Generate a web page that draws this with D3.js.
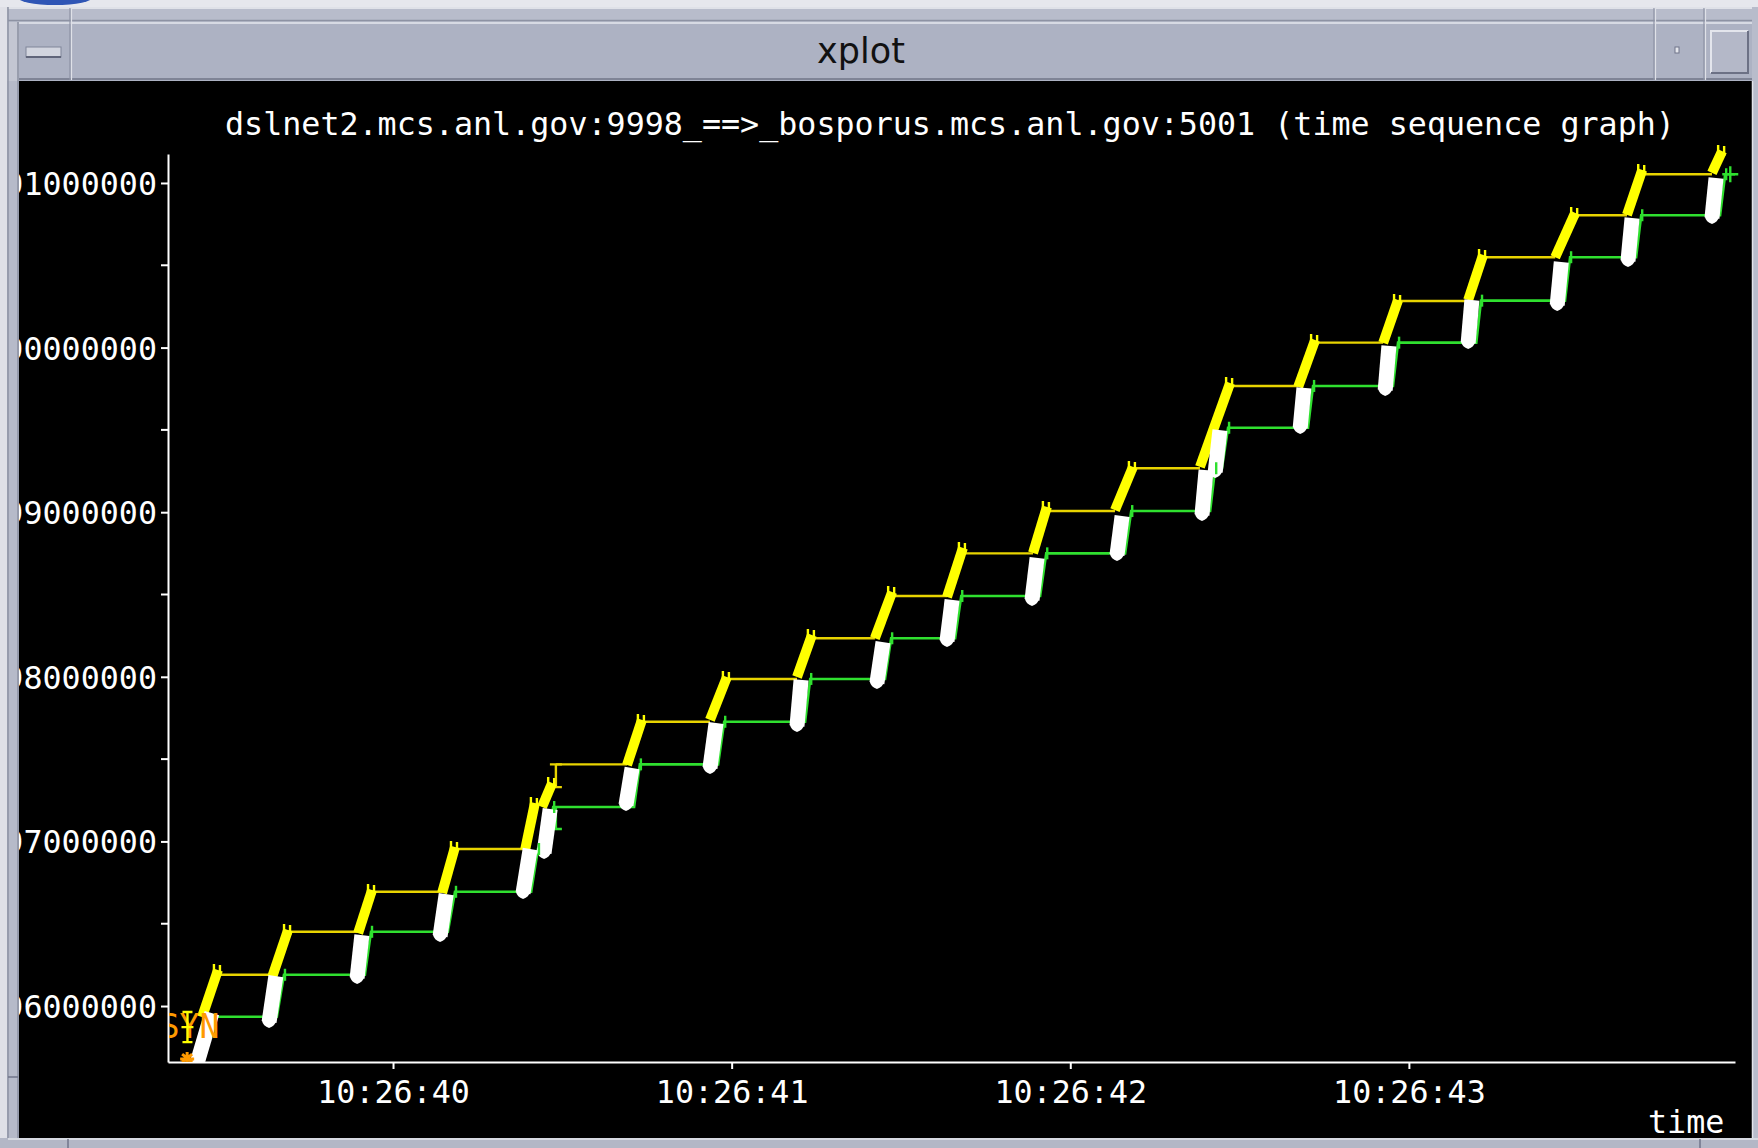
<!DOCTYPE html>
<html><head><meta charset="utf-8">
<script src="https://cdn.jsdelivr.net/npm/d3@7"></script>
<style>html,body{margin:0;padding:0;background:#c9ccd6;overflow:hidden}</style>
</head><body><svg id="c" width="1758" height="1148"></svg>
<script>
// ---------- data ----------
const windowTitle = "xplot";
const chartTitle = "dslnet2.mcs.anl.gov:9998_==>_bosporus.mcs.anl.gov:5001 (time sequence graph)";
const xAxisLabel = "time";
// time in seconds (10:26:ss.sss), sequence numbers in millions
const xTickValues = [40, 41, 42, 43];
const xTickLabels = ["10:26:40", "10:26:41", "10:26:42", "10:26:43"];
const yTickValues = [1096, 1097, 1098, 1099, 1100, 1101];
const yTickLabels = ["1096000000", "1097000000", "1098000000", "1099000000", "1100000000", "1101000000"];
const yMinorTicks = [1096.5, 1097.5, 1098.5, 1099.5, 1100.5];

// data segment bursts (white): [t0, seq0, t1, seq1]
const segmentBursts = [
  [39.424, 1095.672, 39.465, 1095.957],
  [39.634, 1095.903, 39.654, 1096.182],
  [39.894, 1096.170, 39.908, 1096.431],
  [40.139, 1096.425, 40.157, 1096.680],
  [40.384, 1096.687, 40.405, 1096.954],
  [40.446, 1096.930, 40.464, 1097.197],
  [40.688, 1097.221, 40.706, 1097.446],
  [40.936, 1097.446, 40.954, 1097.719],
  [41.193, 1097.701, 41.205, 1097.981],
  [41.429, 1097.962, 41.447, 1098.211],
  [41.636, 1098.217, 41.651, 1098.467],
  [41.887, 1098.467, 41.902, 1098.722],
  [42.138, 1098.740, 42.153, 1098.977],
  [42.389, 1098.983, 42.401, 1099.256],
  [42.428, 1099.244, 42.442, 1099.499],
  [42.679, 1099.512, 42.690, 1099.755],
  [42.930, 1099.742, 42.941, 1100.010],
  [43.175, 1100.028, 43.186, 1100.289],
  [43.438, 1100.259, 43.450, 1100.520],
  [43.647, 1100.526, 43.659, 1100.787],
  [43.895, 1100.787, 43.907, 1101.030]
];

// receive-window updates (yellow dense bands): [t0, seq0, t1, seq1]
const windowBursts = [
  [39.436, 1095.933, 39.483, 1096.219],
  [39.643, 1096.176, 39.690, 1096.462],
  [39.897, 1096.443, 39.938, 1096.705],
  [40.145, 1096.687, 40.183, 1096.966],
  [40.390, 1096.948, 40.419, 1097.233],
  [40.440, 1097.209, 40.470, 1097.355],
  [40.691, 1097.464, 40.735, 1097.738],
  [40.936, 1097.738, 40.986, 1097.999],
  [41.193, 1097.999, 41.237, 1098.254],
  [41.423, 1098.234, 41.474, 1098.515],
  [41.636, 1098.485, 41.683, 1098.783],
  [41.890, 1098.752, 41.931, 1099.032],
  [42.132, 1099.013, 42.185, 1099.275],
  [42.383, 1099.275, 42.472, 1099.785],
  [42.673, 1099.761, 42.723, 1100.046],
  [42.924, 1100.028, 42.968, 1100.289],
  [43.175, 1100.289, 43.219, 1100.563],
  [43.432, 1100.549, 43.491, 1100.818],
  [43.644, 1100.806, 43.689, 1101.079],
  [43.895, 1101.061, 43.925, 1101.194]
];

// window line flat parts: [tStart, tEnd, seq]
const windowLevels = [
  [39.483, 39.643, 1096.190],
  [39.690, 39.897, 1096.451],
  [39.938, 40.145, 1096.694],
  [40.183, 40.390, 1096.954],
  [40.481, 40.691, 1097.468],
  [40.735, 40.936, 1097.727],
  [40.986, 41.193, 1097.987],
  [41.237, 41.423, 1098.234],
  [41.474, 41.636, 1098.491],
  [41.683, 41.890, 1098.750],
  [41.931, 42.132, 1099.007],
  [42.185, 42.383, 1099.267],
  [42.472, 42.673, 1099.767],
  [42.723, 42.924, 1100.030],
  [42.968, 43.175, 1100.283],
  [43.219, 43.432, 1100.549],
  [43.491, 43.644, 1100.804],
  [43.689, 43.895, 1101.053]
];
// window line vertical jump: [t, seqFrom, seqTo]
const windowJumps = [[40.481, 1097.330, 1097.468]];

// ack line (green): [t, seq]
const ackLine = [
  [39.474, 1095.935], [39.657, 1095.935], [39.678, 1096.190], [39.917, 1096.190],
  [39.935, 1096.451], [40.162, 1096.451], [40.183, 1096.694], [40.408, 1096.694],
  [40.428, 1096.954], [40.452, 1096.954], [40.473, 1097.209], [40.712, 1097.209],
  [40.729, 1097.468], [40.960, 1097.468], [40.978, 1097.727], [41.217, 1097.727],
  [41.232, 1097.987], [41.453, 1097.987], [41.471, 1098.234], [41.660, 1098.234],
  [41.678, 1098.491], [41.911, 1098.491], [41.929, 1098.750], [42.162, 1098.750],
  [42.180, 1099.007], [42.413, 1099.007], [42.428, 1099.267], [42.448, 1099.267],
  [42.466, 1099.513], [42.702, 1099.513], [42.717, 1099.767], [42.953, 1099.767],
  [42.968, 1100.030], [43.199, 1100.030], [43.213, 1100.285], [43.461, 1100.285],
  [43.476, 1100.549], [43.671, 1100.549], [43.686, 1100.804], [43.919, 1100.804],
  [43.934, 1101.053], [43.963, 1101.053]
];
// ack vertical (duplicate ack): [t, seqFrom, seqTo]
const ackJumps = [[40.481, 1097.209, 1097.075]];
const ackEndMarker = [43.949, 1101.053];

// SYN
const synLabel = "SYN";
const synPoint = [39.393, 1095.872];
const synSpan = [1095.781, 1095.964];
const synTextSeq = 1095.806;
const synStar = [39.392, 1095.684];

// ---------- drawing ----------
const W = 1758, H = 1148;
const svg = d3.select("#c");
const MONO = "'DejaVu Sans Mono', 'Liberation Mono', monospace";

// window chrome
svg.append("rect").attr("x", 0).attr("y", 0).attr("width", W).attr("height", H).attr("fill", "#c3c6d2");
svg.append("rect").attr("x", 0).attr("y", 0).attr("width", W).attr("height", 7).attr("fill", "#e6e7ed");
svg.append("ellipse").attr("cx", 55).attr("cy", -3).attr("rx", 38).attr("ry", 8).attr("fill", "#2f55b5");
svg.append("rect").attr("x", 8).attr("y", 7).attr("width", W - 8).attr("height", 15).attr("fill", "#b8bccb");
svg.append("line").attr("x1", 8).attr("x2", W).attr("y1", 8).attr("y2", 8).attr("stroke", "#dfe1e8").attr("stroke-width", 2);
svg.append("line").attr("x1", 8).attr("x2", W).attr("y1", 20.5).attr("y2", 20.5).attr("stroke", "#8d92a3").attr("stroke-width", 1.5);
// title bar
svg.append("rect").attr("x", 19).attr("y", 22).attr("width", 1733).attr("height", 59).attr("fill", "#adb2c3");
svg.append("line").attr("x1", 19).attr("x2", 1752).attr("y1", 23).attr("y2", 23).attr("stroke", "#d7dae3").attr("stroke-width", 2);
svg.append("line").attr("x1", 19).attr("x2", 1752).attr("y1", 79).attr("y2", 79).attr("stroke", "#7f8496").attr("stroke-width", 2);
[70, 1654, 1704].forEach(px => {
  svg.append("line").attr("x1", px).attr("x2", px).attr("y1", 8).attr("y2", 80).attr("stroke", "#8d92a3").attr("stroke-width", 1.2);
  svg.append("line").attr("x1", px + 1.5).attr("x2", px + 1.5).attr("y1", 8).attr("y2", 80).attr("stroke", "#dfe1e8").attr("stroke-width", 1.2);
});
// left button
svg.append("rect").attr("x", 26).attr("y", 47).attr("width", 35).attr("height", 10).attr("fill", "#d2d5df").attr("stroke", "#80859a").attr("stroke-width", 1);
svg.append("line").attr("x1", 26).attr("x2", 61).attr("y1", 57).attr("y2", 57).attr("stroke", "#60657a").attr("stroke-width", 2);
// small icon
svg.append("rect").attr("x", 1675).attr("y", 47).attr("width", 4).attr("height", 6).attr("fill", "#e4e6ec").attr("stroke", "#70758a").attr("stroke-width", 1);
// right big button
svg.append("rect").attr("x", 1711).attr("y", 31).attr("width", 37).attr("height", 42).attr("fill", "#b4b8c8");
svg.append("path").attr("d", "M1711,73 L1711,31 L1748,31").attr("fill", "none").attr("stroke", "#e3e5ec").attr("stroke-width", 2);
svg.append("path").attr("d", "M1711,73 L1748,73 L1748,31").attr("fill", "none").attr("stroke", "#6c7185").attr("stroke-width", 2);
// title text
svg.append("text").attr("x", 861).attr("y", 63).attr("text-anchor", "middle")
  .attr("font-family", "'DejaVu Sans', sans-serif").attr("font-size", 35).attr("fill", "#111")
  .text(windowTitle);

// black plot window
svg.append("rect").attr("x", 19).attr("y", 81).attr("width", 1733).attr("height", 1057).attr("fill", "#000");

const x = d3.scaleLinear().domain([39.3355, 43.963]).range([168, 1735]);
const y = d3.scaleLinear().domain([1095.660, 1101.176]).range([1062, 154]);

svg.append("defs").append("clipPath").attr("id", "plotclip")
  .append("rect").attr("x", 169).attr("y", 82).attr("width", 1583).attr("height", 980);

// chart title
svg.append("text").attr("x", 225).attr("y", 135)
  .attr("font-family", MONO).attr("font-size", 31.7).attr("fill", "#fff")
  .text(chartTitle);

// axes
const yAxis = d3.axisLeft(y).tickValues(yTickValues).tickFormat((d, i) => yTickLabels[i])
  .tickSize(7).tickSizeOuter(0).tickPadding(4);
const gy = svg.append("g").attr("transform", "translate(168,0)").call(yAxis);
gy.selectAll(".domain").attr("stroke", "#fff").attr("stroke-width", 2);
gy.selectAll(".tick line").attr("stroke", "#fff").attr("stroke-width", 2);
gy.selectAll(".tick text").attr("fill", "#fff").attr("font-family", MONO).attr("font-size", 31.7)
  .attr("dy", "0.36em");
gy.selectAll(".minor").data(yMinorTicks).join("line").attr("class", "minor")
  .attr("x1", -7).attr("x2", 0).attr("y1", d => y(d)).attr("y2", d => y(d))
  .attr("stroke", "#fff").attr("stroke-width", 2);

const xAxis = d3.axisBottom(x).tickValues(xTickValues).tickFormat((d, i) => xTickLabels[i])
  .tickSize(7).tickSizeOuter(0);
const gx = svg.append("g").attr("transform", "translate(0,1062)").call(xAxis);
gx.selectAll(".domain").attr("stroke", "#fff").attr("stroke-width", 2);
gx.selectAll(".tick line").attr("stroke", "#fff").attr("stroke-width", 2);
gx.selectAll(".tick text").attr("fill", "#fff").attr("font-family", MONO).attr("font-size", 31.7)
  .attr("y", 41).attr("dy", 0);

svg.append("text").attr("x", 1648).attr("y", 1133)
  .attr("font-family", MONO).attr("font-size", 31.7).attr("fill", "#fff").text(xAxisLabel);

// plot marks
const plot = svg.append("g").attr("clip-path", "url(#plotclip)");
const YEL = "#ffff00", YEL_LINE = "#e8d400", GRN = "#2fe02f", WHT = "#ffffff", ORG = "#ff9a00";

// window flat line
plot.selectAll(".wl").data(windowLevels).join("line").attr("class", "wl")
  .attr("x1", d => x(d[0])).attr("x2", d => x(d[1])).attr("y1", d => y(d[2])).attr("y2", d => y(d[2]))
  .attr("stroke", YEL_LINE).attr("stroke-width", 2.4);
plot.selectAll(".wj").data(windowJumps).join("path").attr("class", "wj")
  .attr("d", d => `M${x(d[0])},${y(d[1])} L${x(d[0])},${y(d[2])} M${x(d[0]) - 6},${y(d[1])} L${x(d[0]) + 6},${y(d[1])} M${x(d[0]) - 6},${y(d[2])} L${x(d[0]) + 6},${y(d[2])}`)
  .attr("stroke", YEL_LINE).attr("stroke-width", 2.4).attr("fill", "none");

// ack line
plot.append("path").datum(ackLine)
  .attr("d", d3.line().x(d => x(d[0])).y(d => y(d[1])))
  .attr("fill", "none").attr("stroke", GRN).attr("stroke-width", 2.6);
plot.selectAll(".aj").data(ackJumps).join("path").attr("class", "aj")
  .attr("d", d => `M${x(d[0])},${y(d[1])} L${x(d[0])},${y(d[2])} M${x(d[0]) - 6},${y(d[2])} L${x(d[0]) + 6},${y(d[2])}`)
  .attr("stroke", GRN).attr("stroke-width", 2.4).attr("fill", "none");

// yellow dense window bands
plot.selectAll(".wb").data(windowBursts).join("line").attr("class", "wb")
  .attr("x1", d => x(d[0])).attr("y1", d => y(d[1])).attr("x2", d => x(d[2])).attr("y2", d => y(d[3]))
  .attr("stroke", YEL).attr("stroke-width", 10);
// ticks at top of window bands
plot.selectAll(".wt").data(windowBursts).join("path").attr("class", "wt")
  .attr("d", d => {
    const px = x(d[2]), py = y(d[3]);
    return `M${px - 4},${py - 6} L${px - 4},${py + 6} M${px + 2},${py - 5} L${px + 2},${py + 5}`;
  })
  .attr("stroke", YEL).attr("stroke-width", 2.4).attr("fill", "none");

// white segment bursts
plot.selectAll(".sb").data(segmentBursts).join("line").attr("class", "sb")
  .attr("x1", d => x(d[0])).attr("y1", d => y(d[1])).attr("x2", d => x(d[2])).attr("y2", d => y(d[3]))
  .attr("stroke", WHT).attr("stroke-width", 15).attr("stroke-linecap", "butt");
plot.selectAll(".sbt").data(segmentBursts).join("path").attr("class", "sbt")
  .attr("d", d => {
    const px = x(d[0]), py = y(d[1]);
    return `M${px - 7},${py - 1} Q${px - 6},${py + 4} ${px},${py + 6} Q${px + 6},${py + 4} ${px + 7},${py - 1} Z`;
  })
  .attr("fill", WHT);

// green ticks at top of each ack rise
const riseTops = ackLine.filter((d, i) => i > 0 && d[1] > ackLine[i - 1][1]);
plot.selectAll(".at").data(riseTops).join("line").attr("class", "at")
  .attr("x1", d => x(d[0]) + 1).attr("x2", d => x(d[0]) + 1).attr("y1", d => y(d[1]) - 6).attr("y2", d => y(d[1]) + 6)
  .attr("stroke", GRN).attr("stroke-width", 2.4);
const ex = x(ackEndMarker[0]), ey = y(ackEndMarker[1]);
plot.append("path").attr("d", `M${ex - 8},${ey} L${ex + 8},${ey} M${ex},${ey - 8} L${ex},${ey + 8}`)
  .attr("stroke", GRN).attr("stroke-width", 2.4);

// SYN label (on top)
plot.append("text").attr("x", x(synPoint[0]) + 2).attr("y", y(synTextSeq)).attr("text-anchor", "middle")
  .attr("font-family", MONO).attr("font-size", 33).attr("fill", ORG).text(synLabel);
// SYN star
const sx = x(synStar[0]), sy = y(synStar[1]);
plot.append("path").attr("d", `M${sx - 7},${sy + 1} L${sx + 7},${sy + 1} M${sx},${sy - 6} L${sx},${sy + 4} M${sx - 5},${sy - 4} L${sx + 5},${sy + 4} M${sx + 5},${sy - 4} L${sx - 5},${sy + 4}`)
  .attr("stroke", ORG).attr("stroke-width", 3).attr("fill", "none");
// SYN marker (yellow I-beam)
const yx = x(synPoint[0]), ya = y(synSpan[0]), yb = y(synSpan[1]), ym = y(synPoint[1]);
plot.append("path").attr("d", `M${yx},${ya} L${yx},${yb} M${yx - 5},${ya} L${yx + 5},${ya} M${yx - 5},${yb} L${yx + 5},${yb} M${yx - 6},${ym} L${yx + 6},${ym}`)
  .attr("stroke", YEL).attr("stroke-width", 2.4).attr("fill", "none");

// borders drawn over the plot window edges
svg.append("rect").attr("x", 0).attr("y", 81).attr("width", 19).attr("height", 1067).attr("fill", "#b6bac9");
svg.append("rect").attr("x", 0).attr("y", 7).attr("width", 7).attr("height", 1141).attr("fill", "#dfe0e7");
svg.append("line").attr("x1", 8).attr("x2", 8).attr("y1", 7).attr("y2", 1148).attr("stroke", "#8d92a3").attr("stroke-width", 1.5);
svg.append("line").attr("x1", 18).attr("x2", 18).attr("y1", 22).attr("y2", 1138).attr("stroke", "#8a8fa0").attr("stroke-width", 1.5);
svg.append("line").attr("x1", 8).attr("x2", 18).attr("y1", 1077).attr("y2", 1077).attr("stroke", "#70758a").attr("stroke-width", 1.5);
svg.append("rect").attr("x", 1752).attr("y", 7).attr("width", 6).attr("height", 1141).attr("fill", "#b8bccb");
svg.append("line").attr("x1", 1752.5).attr("x2", 1752.5).attr("y1", 81).attr("y2", 1138).attr("stroke", "#e2e4ea").attr("stroke-width", 1.5);
svg.append("rect").attr("x", 0).attr("y", 1138).attr("width", W).attr("height", 10).attr("fill", "#b3b7c6");
svg.append("line").attr("x1", 8).attr("x2", W).attr("y1", 1139).attr("y2", 1139).attr("stroke", "#e2e4ea").attr("stroke-width", 1.5);
[68, 1700].forEach(px => svg.append("line").attr("x1", px).attr("x2", px).attr("y1", 1139).attr("y2", 1148)
  .attr("stroke", "#70758a").attr("stroke-width", 1.5));
</script></body></html>
